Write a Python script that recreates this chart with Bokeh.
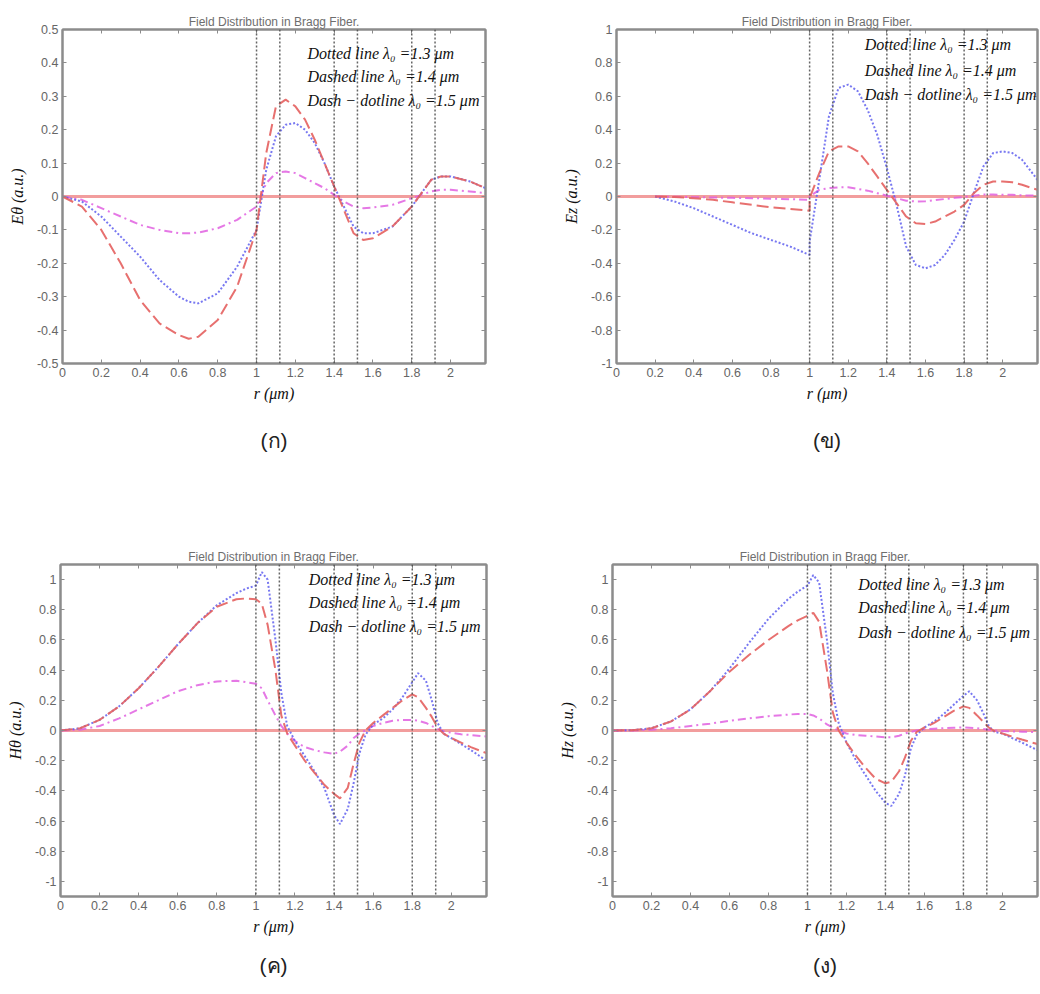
from bokeh.plotting import figure
from bokeh.layouts import column, row
from bokeh.models import (Span, Label, LinearAxis, FixedTicker, Range1d, Title,
                          CustomJSTickFormatter)
from bokeh.embed import file_html
from bokeh.resources import INLINE

# ---------------- data ----------------
interfaces = [1.0, 1.12, 1.4, 1.52, 1.8, 1.92]
x_ticks = [0, 0.2, 0.4, 0.6, 0.8, 1, 1.2, 1.4, 1.6, 1.8, 2]
y_ticks_a = [-0.5, -0.4, -0.3, -0.2, -0.1, 0, 0.1, 0.2, 0.3, 0.4, 0.5]
y_ticks_b = [-1, -0.8, -0.6, -0.4, -0.2, 0, 0.2, 0.4, 0.6, 0.8, 1]
legend_lines = ["Dotted line λ₀ =1.3 μm", "Dashed line λ₀ =1.4 μm", "Dash − dotline λ₀ =1.5 μm"]
titles = "Field Distribution in Bragg Fiber."
panel_labels = ["(ก)", "(ข)", "(ค)", "(ง)"]
y_labels = ["Eθ (a.u.)", "Ez (a.u.)", "Hθ (a.u.)", "Hz (a.u.)"]

# (a) E_theta
r_a = [0, 0.1, 0.2, 0.3, 0.4, 0.5, 0.6, 0.65, 0.7, 0.8, 0.9, 1.0, 1.05, 1.1, 1.15, 1.2,
       1.25, 1.3, 1.35, 1.4, 1.45, 1.5, 1.55, 1.6, 1.7, 1.8, 1.85, 1.9, 1.95, 2.0, 2.1, 2.18]
eth_13 = [0, -0.015, -0.06, -0.12, -0.18, -0.25, -0.30, -0.315, -0.32, -0.29, -0.21, -0.1, 0.08,
          0.18, 0.215, 0.22, 0.2, 0.16, 0.1, 0.03, -0.03, -0.09, -0.11, -0.11, -0.09, -0.03,
          0.01, 0.05, 0.06, 0.06, 0.045, 0.025]
eth_14 = [0, -0.03, -0.1, -0.2, -0.31, -0.38, -0.415, -0.426, -0.42, -0.37, -0.27, -0.1, 0.13,
          0.27, 0.29, 0.27, 0.23, 0.17, 0.1, 0.03, -0.04, -0.11, -0.13, -0.125, -0.09, -0.03,
          0.01, 0.05, 0.06, 0.06, 0.045, 0.025]
eth_15 = [0, -0.01, -0.035, -0.06, -0.085, -0.1, -0.11, -0.11, -0.108, -0.095, -0.07, -0.03, 0.04,
          0.07, 0.075, 0.07, 0.055, 0.04, 0.025, 0.005, -0.015, -0.03, -0.035, -0.033, -0.025,
          -0.005, 0.005, 0.015, 0.02, 0.02, 0.015, 0.01]

# (b) E_z
r_b = [0.2, 0.3, 0.4, 0.5, 0.6, 0.7, 0.8, 0.9, 1.0, 1.0, 1.05, 1.1, 1.15, 1.2, 1.25, 1.3, 1.35,
       1.4, 1.45, 1.5, 1.55, 1.6, 1.65, 1.7, 1.75, 1.8, 1.85, 1.9, 1.95, 2.0, 2.05, 2.1, 2.18]
ez_13 = [0, -0.03, -0.07, -0.12, -0.17, -0.22, -0.26, -0.3, -0.35, -0.27, 0.1, 0.48, 0.65, 0.67,
         0.63, 0.52, 0.37, 0.17, -0.05, -0.3, -0.41, -0.43, -0.41, -0.35, -0.26, -0.15, 0.02,
         0.18, 0.26, 0.27, 0.26, 0.22, 0.1]
ez_14 = [0, -0.003, -0.01, -0.02, -0.035, -0.05, -0.065, -0.075, -0.085, -0.01, 0.14, 0.27, 0.3,
         0.3, 0.27, 0.2, 0.12, 0.04, -0.04, -0.12, -0.16, -0.165, -0.15, -0.12, -0.09, -0.05,
         0.02, 0.07, 0.09, 0.09, 0.085, 0.07, 0.04]
ez_15 = [0, -0.002, -0.004, -0.006, -0.008, -0.01, -0.013, -0.016, -0.02, 0.0, 0.04, 0.05, 0.055,
         0.055, 0.045, 0.035, 0.02, 0.005, -0.01, -0.025, -0.03, -0.028, -0.022, -0.015, -0.008,
         -0.003, 0.005, 0.012, 0.012, 0.01, 0.01, 0.007, 0.005]

# (c) H_theta and (d) H_z
r_c = [0, 0.1, 0.2, 0.3, 0.4, 0.5, 0.6, 0.7, 0.8, 0.9, 0.95, 1.0, 1.03, 1.06, 1.1, 1.13, 1.16,
       1.2, 1.25, 1.3, 1.35, 1.4, 1.43, 1.47, 1.5, 1.53, 1.56, 1.6, 1.65, 1.7, 1.75, 1.8, 1.83,
       1.87, 1.9, 1.93, 1.96, 2.0, 2.05, 2.1, 2.18]
hth_13 = [0, 0.015, 0.07, 0.16, 0.28, 0.42, 0.57, 0.71, 0.83, 0.91, 0.94, 0.96, 1.05, 1.0, 0.6,
          0.25, 0.03, -0.07, -0.17, -0.27, -0.38, -0.56, -0.62, -0.52, -0.35, -0.15, -0.03, 0.04,
          0.08, 0.14, 0.22, 0.32, 0.38, 0.33, 0.2, 0.05, -0.02, -0.05, -0.09, -0.13, -0.2]
hth_14 = [0, 0.015, 0.07, 0.16, 0.28, 0.42, 0.57, 0.71, 0.82, 0.87, 0.875, 0.87, 0.84, 0.7, 0.4,
          0.1, -0.02, -0.1, -0.2, -0.28, -0.36, -0.42, -0.45, -0.38, -0.22, -0.08, 0.0, 0.05,
          0.1, 0.15, 0.2, 0.24, 0.22, 0.15, 0.09, 0.02, -0.02, -0.05, -0.08, -0.11, -0.15]
hth_15 = [0, 0.005, 0.03, 0.08, 0.14, 0.2, 0.26, 0.3, 0.325, 0.33, 0.32, 0.31, 0.28, 0.2, 0.1,
          0.03, -0.02, -0.07, -0.11, -0.13, -0.145, -0.155, -0.14, -0.1, -0.05, -0.02, 0.0, 0.03,
          0.05, 0.065, 0.07, 0.07, 0.065, 0.05, 0.03, 0.01, -0.005, -0.015, -0.025, -0.03, -0.04]
hz_13 = [0, 0.002, 0.015, 0.06, 0.14, 0.26, 0.41, 0.58, 0.74, 0.87, 0.92, 0.96, 1.03, 0.98, 0.6,
         0.25, 0.05, -0.08, -0.2, -0.3, -0.4, -0.48, -0.5, -0.42, -0.3, -0.12, -0.03, 0.02, 0.06,
         0.11, 0.17, 0.23, 0.26, 0.2, 0.12, 0.03, -0.01, -0.02, -0.05, -0.08, -0.13]
hz_14 = [0, 0.002, 0.015, 0.06, 0.14, 0.26, 0.39, 0.5, 0.6, 0.69, 0.73, 0.76, 0.78, 0.72, 0.4,
         0.12, 0.0, -0.08, -0.17, -0.25, -0.32, -0.35, -0.34, -0.27, -0.18, -0.07, -0.01, 0.02,
         0.05, 0.09, 0.13, 0.16, 0.15, 0.1, 0.06, 0.02, -0.005, -0.02, -0.04, -0.06, -0.09]
hz_15 = [0, 0.0, 0.005, 0.015, 0.03, 0.045, 0.065, 0.08, 0.095, 0.105, 0.11, 0.11, 0.1, 0.08, 0.04,
         0.02, 0.0, -0.02, -0.03, -0.035, -0.04, -0.045, -0.045, -0.035, -0.02, -0.01, 0.0, 0.008,
         0.012, 0.016, 0.018, 0.02, 0.018, 0.015, 0.01, 0.005, 0.0, -0.003, -0.006, -0.008, -0.01]

# ---------------- styling ----------------
C_BLUE = "#6060ee"
C_RED = "#e4605f"
C_MAG = "#e060e0"
AX = "#8c8c8c"
TICK_TXT = "#666666"

fmt = CustomJSTickFormatter(code="return String(Math.round(tick*100)/100);")
blank = CustomJSTickFormatter(code="return '';")


def make_panel(idx, r, s13, s14, s15, yr, yticks, height, borders, text_pos, lab_standoff):
    left, right, top, bottom = borders
    p = figure(width=520, height=height, output_backend="svg", toolbar_location=None,
               x_range=Range1d(0, 2.18), y_range=Range1d(*yr),
               min_border_left=left, min_border_right=right,
               min_border_top=top, min_border_bottom=bottom, title=titles)
    p.title.align = "center"
    p.title.text_font = "Liberation Sans"
    p.title.text_font_size = "12px"
    p.title.text_font_style = "normal"
    p.title.text_color = "#6e6e6e"
    p.title.standoff = 2
    p.xgrid.visible = False
    p.ygrid.visible = False
    p.outline_line_color = AX
    p.outline_line_width = 2
    p.background_fill_color = "white"
    p.border_fill_color = "white"

    for ax, ticks in ((p.xaxis[0], x_ticks), (p.yaxis[0], yticks)):
        ax.ticker = FixedTicker(ticks=ticks)
        ax.formatter = fmt
        ax.major_tick_in = 4
        ax.major_tick_out = 0
        ax.minor_tick_line_color = None
        ax.major_tick_line_color = AX
        ax.axis_line_color = AX
        ax.axis_line_width = 2
        ax.major_label_text_font = "Liberation Sans"
        ax.major_label_text_font_size = "12.5px"
        ax.major_label_text_color = TICK_TXT
        ax.axis_label_text_font = "Liberation Serif"
        ax.axis_label_text_font_style = "italic"
        ax.axis_label_text_font_size = "16px"
        ax.axis_label_text_color = "#111111"
    p.xaxis.axis_label = "r (μm)"
    p.xaxis.major_label_standoff = 4
    p.xaxis.axis_label_standoff = 5
    p.yaxis.axis_label = y_labels[idx]
    p.yaxis.major_label_standoff = 4
    p.yaxis.axis_label_standoff = 8

    for place, ticks in (("above", x_ticks), ("right", yticks)):
        a = LinearAxis(ticker=FixedTicker(ticks=ticks), formatter=blank,
                       major_label_text_color=None, major_label_text_font_size="1px",
                       major_label_standoff=0, major_tick_in=4, major_tick_out=0,
                       minor_tick_line_color=None, major_tick_line_color=AX,
                       axis_line_color=AX, axis_line_width=2)
        p.add_layout(a, place)

    p.add_layout(Title(text=panel_labels[idx], align="center", text_font="Liberation Sans",
                       text_font_size="21px", text_font_style="normal",
                       text_color="#222222", standoff=lab_standoff), "below")

    p.add_layout(Span(location=0, dimension="width", line_color="#f08c8c",
                      line_width=3, line_alpha=0.85, level="underlay"))
    for loc in interfaces:
        p.add_layout(Span(location=loc, dimension="height", line_color="#4a4a4a",
                          line_width=1.5, line_dash="2 2", line_alpha=0.85))

    p.line(r, s15, line_color=C_MAG, line_width=2, line_dash="8 4 2 4", line_alpha=0.85)
    p.line(r, s13, line_color=C_BLUE, line_width=2, line_dash="2 2", line_alpha=0.85)
    p.line(r, s14, line_color=C_RED, line_width=2, line_dash="12 5", line_alpha=0.9)

    tx, ty = text_pos
    for k, t in enumerate(legend_lines):
        p.add_layout(Label(x=tx, y=ty[k], text=t, text_font="Liberation Serif",
                           text_font_style="italic", text_font_size="16px",
                           text_color="#111111", text_baseline="middle"))
    return p


p1 = make_panel(0, r_a, eth_13, eth_14, eth_15, (-0.5, 0.5), y_ticks_a, 479,
                (62, 35, 29, 116), (1.263, [0.428, 0.36, 0.288]), 44)
p2 = make_panel(1, r_b, ez_13, ez_14, ez_15, (-1, 1), y_ticks_b, 479,
                (96, 3, 29, 116), (1.285, [0.908, 0.757, 0.613]), 44)
p3 = make_panel(2, r_c, hth_13, hth_14, hth_15, (-1.1, 1.1), y_ticks_b, 515,
                (60, 34, 85, 98), (1.27, [1.0, 0.85, 0.69]), 28)
p4 = make_panel(3, r_c, hz_13, hz_14, hz_15, (-1.1, 1.1), y_ticks_b, 515,
                (92, 3, 85, 98), (1.26, [0.97, 0.815, 0.65]), 28)

layout = column(row(p1, p2), row(p3, p4))
open("out.html", "w").write(file_html(layout, INLINE))
